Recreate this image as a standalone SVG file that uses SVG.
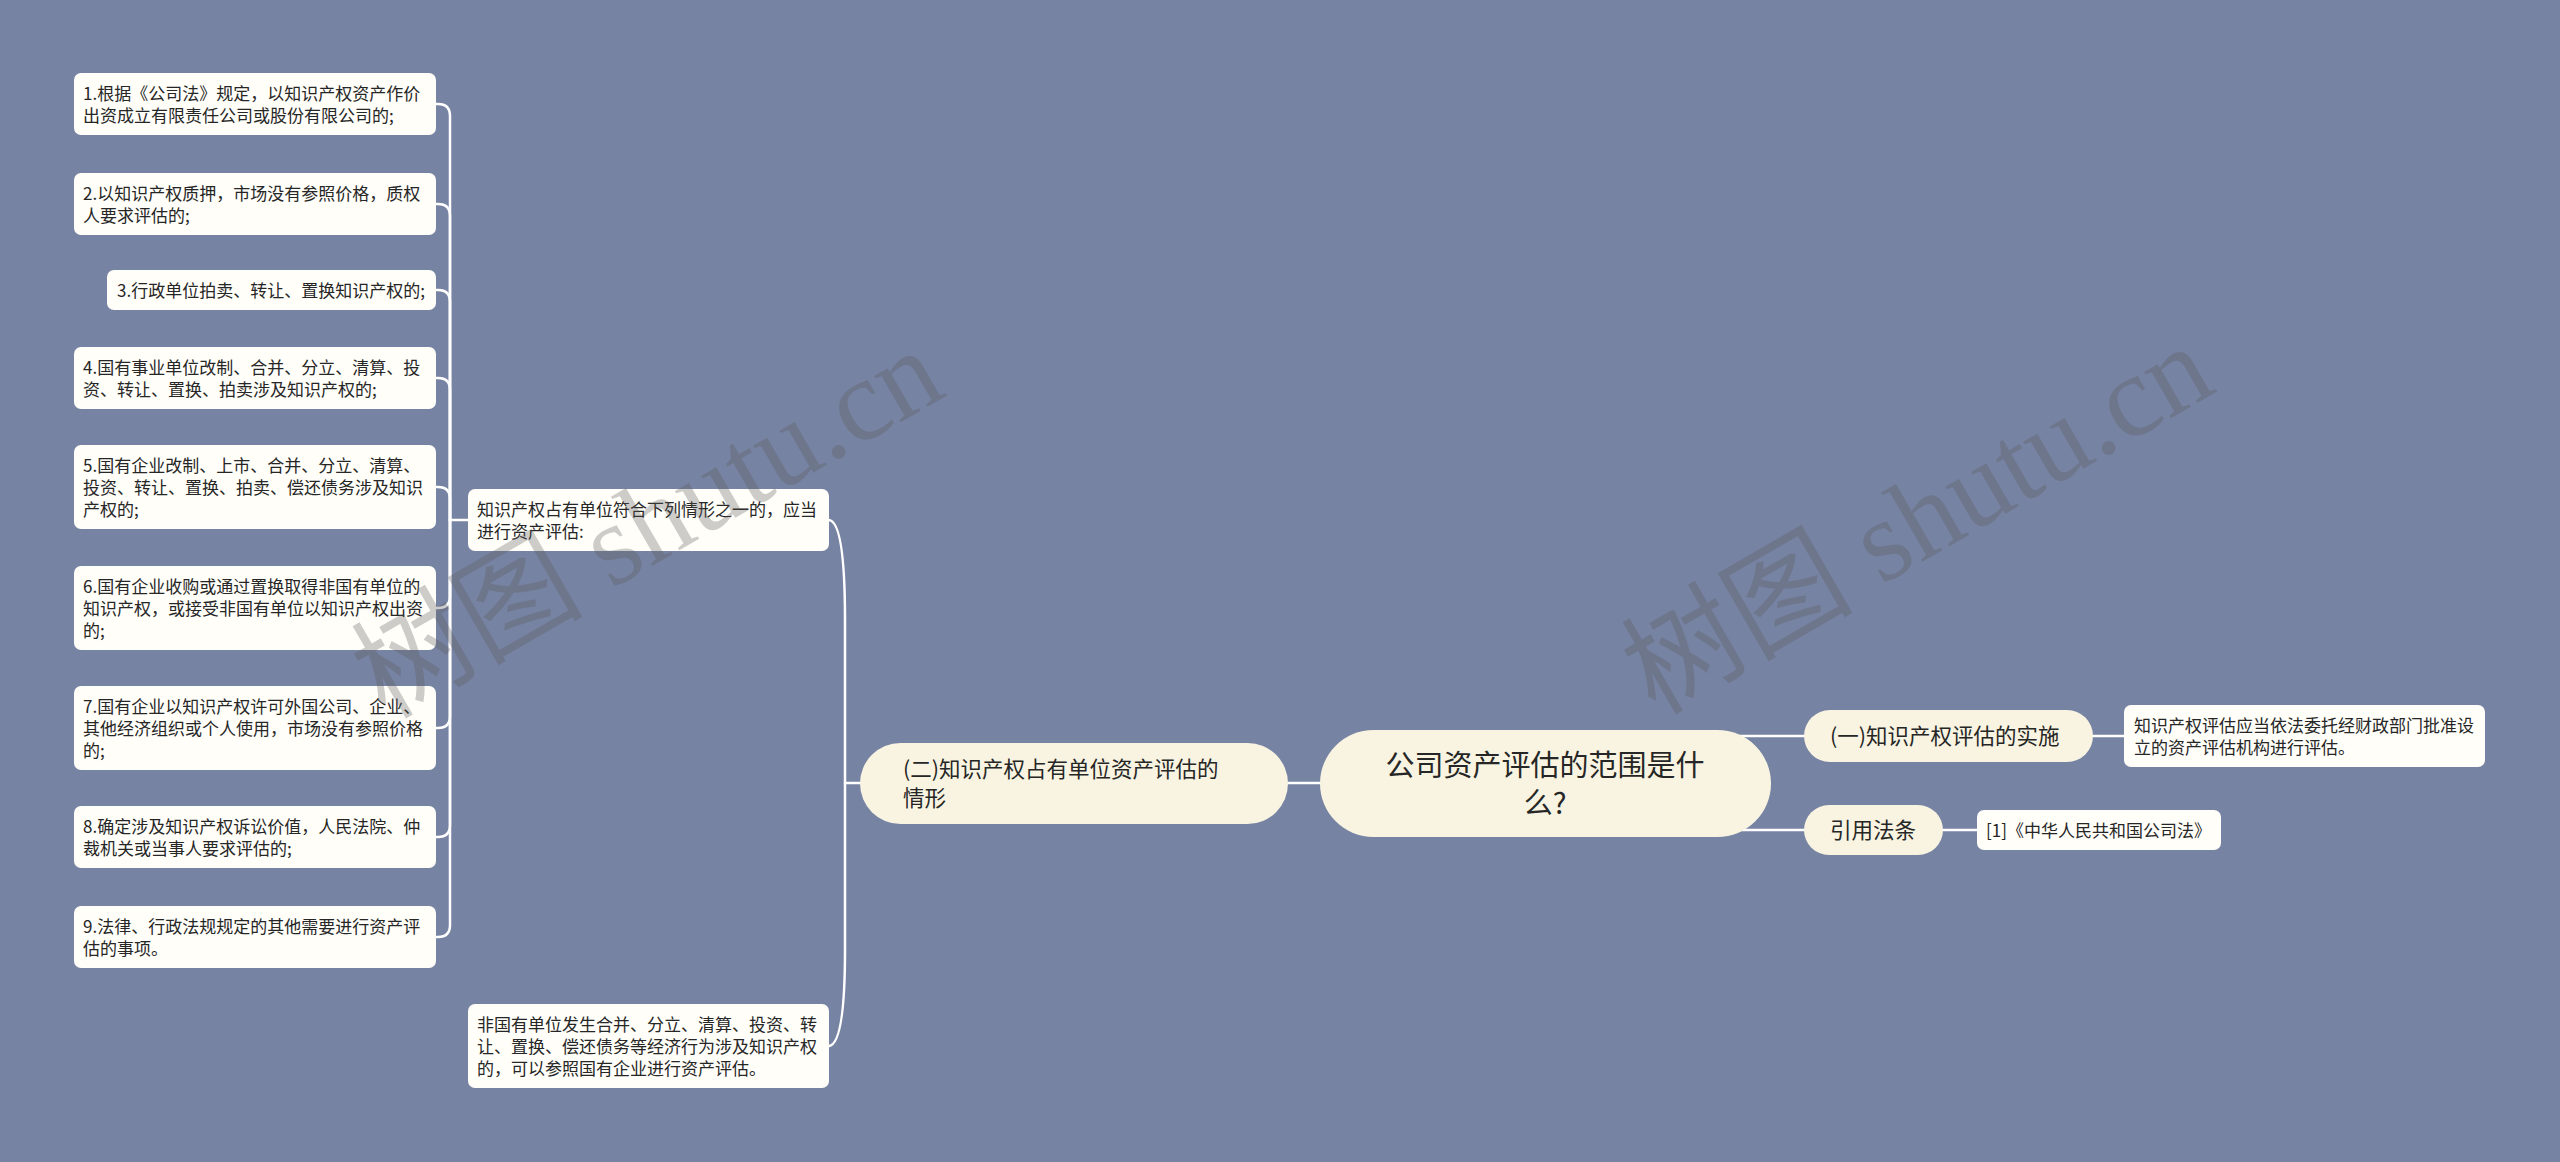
<svg xmlns="http://www.w3.org/2000/svg" width="2560" height="1162" viewBox="0 0 2560 1162">
<style>
.bg{fill:#7783a3}
.leaf{fill:#fffef9}
.mid{fill:#f8f4e1}
.t{font-family:"Noto Sans CJK SC","Noto Sans",sans-serif;fill:#262626}
.s{font-size:17px}
.m{font-size:21.5px}
.r{font-size:29px}
.c{fill:none;stroke:#ffffff;stroke-width:2.5;stroke-linecap:round}
.wm{font-family:"Liberation Serif","Noto Sans CJK SC",serif;font-size:116px;fill:#5a5a5a;fill-opacity:0.3}
</style>
<rect class="bg" x="0" y="0" width="2560" height="1162"/>
<g id="connectors">
<path class="c" d="M450,520 L450,116 Q450,104 438,104 L436,104"/>
<path class="c" d="M450,520 L450,216 Q450,204 438,204 L436,204"/>
<path class="c" d="M450,520 L450,302 Q450,290 438,290 L436,290"/>
<path class="c" d="M450,520 L450,390 Q450,378 438,378 L436,378"/>
<path class="c" d="M450,520 L450,499 Q450,487 438,487 L436,487"/>
<path class="c" d="M450,520 L450,596 Q450,608 438,608 L436,608"/>
<path class="c" d="M450,520 L450,716 Q450,728 438,728 L436,728"/>
<path class="c" d="M450,520 L450,825 Q450,837 438,837 L436,837"/>
<path class="c" d="M450,520 L450,925 Q450,937 438,937 L436,937"/>
<path class="c" d="M450,520 L468,520"/>
<path class="c" d="M829,520 Q845,522 845,620 L845,950 Q845,1044 829,1046"/>
<path class="c" d="M845,783 L860,783"/>
<path class="c" d="M1288,783 L1320,783"/>
<path class="c" d="M1720,736 L1804,736"/>
<path class="c" d="M1720,830 L1804,830"/>
<path class="c" d="M2093,736 L2124,736"/>
<path class="c" d="M1943,830 L1977,830"/>
</g>
<g id="root">
<rect class="mid" x="1320" y="730" width="451" height="107" rx="53.5"/>
<text class="t r" x="1545" y="776" text-anchor="middle">公司资产评估的范围是什</text>
<text class="t r" x="1545" y="814" text-anchor="middle">么?</text>
</g>
<g id="n-er">
<rect class="mid" x="860" y="743" width="428" height="81" rx="40.5"/>
<text class="t m" x="903" y="777">(二)知识产权占有单位资产评估的</text>
<text class="t m" x="903" y="806">情形</text>
</g>
<g id="n-yi">
<rect class="mid" x="1804" y="710" width="289" height="52" rx="26"/>
<text class="t m" x="1830" y="744">(一)知识产权评估的实施</text>
</g>
<g id="n-yinyong">
<rect class="mid" x="1804" y="805" width="139" height="50" rx="25"/>
<text class="t m" x="1830" y="838">引用法条</text>
</g>
<g id="n-yi-detail">
<rect class="leaf" x="2124" y="705" width="361" height="62" rx="7"/>
<text class="t s" x="2134" y="732">知识产权评估应当依法委托经财政部门批准设</text>
<text class="t s" x="2134" y="754">立的资产评估机构进行评估。</text>
</g>
<g id="n-law">
<rect class="leaf" x="1977" y="810" width="244" height="40" rx="7"/>
<text class="t s" x="1986" y="837">[1]《中华人民共和国公司法》</text>
</g>
<g id="n-parent">
<rect class="leaf" x="468" y="489" width="361" height="62" rx="7"/>
<text class="t s" x="477" y="516">知识产权占有单位符合下列情形之一的，应当</text>
<text class="t s" x="477" y="538">进行资产评估:</text>
</g>
<g id="n-feiguoyou">
<rect class="leaf" x="468" y="1004" width="361" height="84" rx="7"/>
<text class="t s" x="477" y="1031">非国有单位发生合并、分立、清算、投资、转</text>
<text class="t s" x="477" y="1053">让、置换、偿还债务等经济行为涉及知识产权</text>
<text class="t s" x="477" y="1075">的，可以参照国有企业进行资产评估。</text>
</g>
<g id="n1">
<rect class="leaf" x="74" y="73" width="362" height="62" rx="7"/>
<text class="t s" x="83" y="100">1.根据《公司法》规定，以知识产权资产作价</text>
<text class="t s" x="83" y="122">出资成立有限责任公司或股份有限公司的;</text>
</g>
<g id="n2">
<rect class="leaf" x="74" y="173" width="362" height="62" rx="7"/>
<text class="t s" x="83" y="200">2.以知识产权质押，市场没有参照价格，质权</text>
<text class="t s" x="83" y="222">人要求评估的;</text>
</g>
<g id="n3">
<rect class="leaf" x="107" y="270" width="329" height="40" rx="7"/>
<text class="t s" x="117" y="297">3.行政单位拍卖、转让、置换知识产权的;</text>
</g>
<g id="n4">
<rect class="leaf" x="74" y="347" width="362" height="62" rx="7"/>
<text class="t s" x="83" y="374">4.国有事业单位改制、合并、分立、清算、投</text>
<text class="t s" x="83" y="396">资、转让、置换、拍卖涉及知识产权的;</text>
</g>
<g id="n5">
<rect class="leaf" x="74" y="445" width="362" height="84" rx="7"/>
<text class="t s" x="83" y="472">5.国有企业改制、上市、合并、分立、清算、</text>
<text class="t s" x="83" y="494">投资、转让、置换、拍卖、偿还债务涉及知识</text>
<text class="t s" x="83" y="516">产权的;</text>
</g>
<g id="n6">
<rect class="leaf" x="74" y="566" width="362" height="84" rx="7"/>
<text class="t s" x="83" y="593">6.国有企业收购或通过置换取得非国有单位的</text>
<text class="t s" x="83" y="615">知识产权，或接受非国有单位以知识产权出资</text>
<text class="t s" x="83" y="637">的;</text>
</g>
<g id="n7">
<rect class="leaf" x="74" y="686" width="362" height="84" rx="7"/>
<text class="t s" x="83" y="713">7.国有企业以知识产权许可外国公司、企业、</text>
<text class="t s" x="83" y="735">其他经济组织或个人使用，市场没有参照价格</text>
<text class="t s" x="83" y="757">的;</text>
</g>
<g id="n8">
<rect class="leaf" x="74" y="806" width="362" height="62" rx="7"/>
<text class="t s" x="83" y="833">8.确定涉及知识产权诉讼价值，人民法院、仲</text>
<text class="t s" x="83" y="855">裁机关或当事人要求评估的;</text>
</g>
<g id="n9">
<rect class="leaf" x="74" y="906" width="362" height="62" rx="7"/>
<text class="t s" x="83" y="933">9.法律、行政法规规定的其他需要进行资产评</text>
<text class="t s" x="83" y="955">估的事项。</text>
</g>
<g id="watermarks">
<text class="wm" transform="translate(385,720) rotate(-30)">树图 shutu.cn</text>
<text class="wm" transform="translate(1655,716) rotate(-30)">树图 shutu.cn</text>
</g>
</svg>
